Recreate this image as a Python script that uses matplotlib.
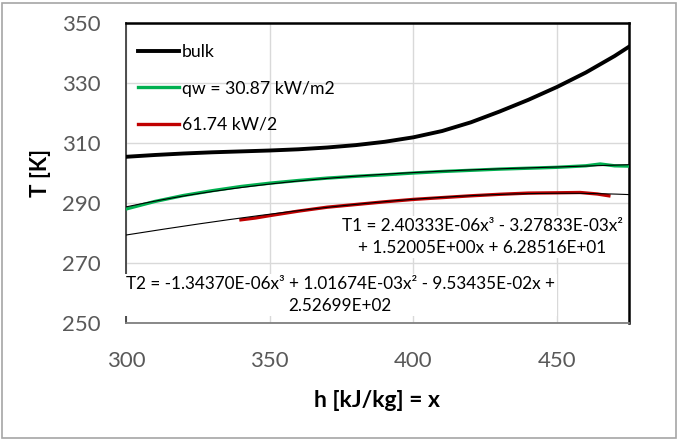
import matplotlib
matplotlib.use('Agg')
import matplotlib.pyplot as plt
import numpy as np
from matplotlib.patches import Rectangle

plt.rcParams['font.family'] = ['Lato', 'DejaVu Sans']

# enthalpy [kJ/kg] and temperatures [K]
h_bulk = [300, 310, 320, 330, 340, 350, 360, 370, 380, 390, 400, 410, 420, 430, 440, 450, 460, 470, 475]
T_bulk = [305.4, 306.0, 306.5, 306.9, 307.2, 307.5, 307.9, 308.5, 309.3, 310.4, 311.9, 314.0, 316.9,
          320.5, 324.4, 328.7, 333.5, 339.0, 342.1]

h_q1 = [300, 310, 320, 330, 340, 350, 360, 370, 380, 390, 400, 410, 420, 430, 440, 450, 460, 465, 470, 475]
T_q1 = [288.0, 290.5, 292.5, 294.1, 295.5, 296.6, 297.5, 298.3, 298.9, 299.4, 300.0, 300.5, 300.9,
        301.3, 301.6, 301.9, 302.4, 303.0, 302.4, 302.3]

h_q2 = [340, 345, 350, 360, 370, 380, 390, 400, 410, 420, 430, 440, 450, 458, 464, 468]
T_q2 = [284.4, 285.0, 285.8, 287.3, 288.6, 289.5, 290.4, 291.2, 291.8, 292.4, 292.9, 293.3, 293.4,
        293.5, 293.0, 292.4]

# polynomial trendlines as printed on the chart (highest power first)
coef_T1 = [2.40333E-06, -3.27833E-03, 1.52005E+00, 6.28516E+01]
coef_T2 = [-1.34370E-06, 1.01674E-03, -9.53435E-02, 2.52699E+02]

labels = ['bulk', 'qw = 30.87 kW/m2', '61.74 kW/2']
eq_T1 = 'T1 = 2.40333E-06x³ - 3.27833E-03x²\n+ 1.52005E+00x + 6.28516E+01'
eq_T2 = 'T2 = -1.34370E-06x³ + 1.01674E-03x² - 9.53435E-02x +\n2.52699E+02'

fig = plt.figure(figsize=(6.8, 4.4), dpi=100)
ax = fig.add_axes([126 / 680, 1 - 323 / 440, 503 / 680, 300 / 440])

# outer chart border
fig.patches.append(Rectangle((2 / 680, 2 / 440), 674 / 680, 435 / 440, transform=fig.transFigure,
                             fill=False, edgecolor='#a6a6a6', linewidth=1.2))

ax.plot(h_bulk, T_bulk, color='black', lw=2.8, label=labels[0], zorder=4)
ax.plot(h_q1, T_q1, color='#00b050', lw=2.4, label=labels[1], zorder=4)
ax.plot(h_q2, T_q2, color='#c00000', lw=2.4, label=labels[2], zorder=4)

xx = np.linspace(300, 475, 200)
ax.plot(xx, np.polyval(coef_T1, xx), color='black', lw=0.8, zorder=5)
ax.plot(xx, np.polyval(coef_T2, xx), color='black', lw=0.8, zorder=5)

ax.set_xlim(300, 475)
ax.set_ylim(250, 350)
ax.set_xticks([300, 350, 400, 450])
ax.set_yticks([250, 270, 290, 310, 330, 350])
ax.grid(True, color='#d9d9d9', lw=1.0)
ax.set_axisbelow(True)
ax.tick_params(axis='both', length=0, labelsize=16, labelcolor='#595959')
ax.tick_params(axis='x', pad=20)
ax.tick_params(axis='y', pad=18)

for side in ['top', 'right']:
    ax.spines[side].set_color('black')
    ax.spines[side].set_linewidth(1.8)
ax.spines['left'].set_color('#404040')
ax.spines['left'].set_linewidth(1.3)
ax.spines['bottom'].set_color('#7f7f7f')
ax.spines['bottom'].set_linewidth(1.3)

ax.set_xlabel('h [kJ/kg] = x', fontsize=16.5, fontweight='bold', labelpad=14)
ax.set_ylabel('T [K]', fontsize=16, fontweight='bold', labelpad=8)

box = dict(facecolor='white', edgecolor='none', pad=1.5)
ax.text(424, 278.7, eq_T1, ha='center', va='center', multialignment='center', fontsize=12.3,
        linespacing=1.45, bbox=box, zorder=6)
ax.text(374.5, 259.3, eq_T2, ha='center', va='center', multialignment='center', fontsize=12.3,
        linespacing=1.45, bbox=box, zorder=6, clip_on=False)

ax.legend(loc='upper left', bbox_to_anchor=(0.0, 0.97), frameon=False, fontsize=12.7,
          handlelength=2.3, handletextpad=0.15, labelspacing=1.15, borderaxespad=0.3)

fig.savefig('out.png', dpi=100)
